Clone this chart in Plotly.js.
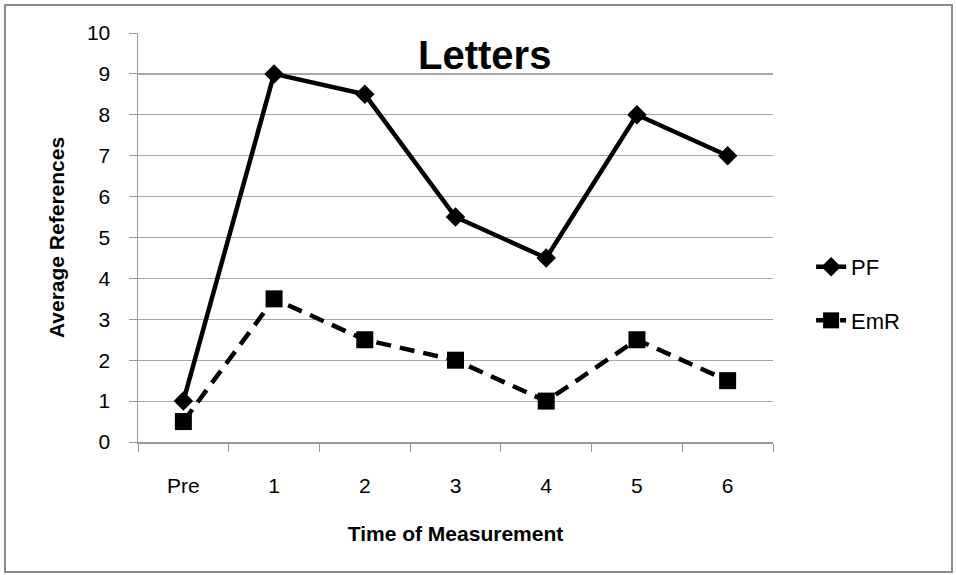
<!DOCTYPE html>
<html><head><meta charset="utf-8">
<script src="https://cdn.plot.ly/plotly-3.0.1.min.js"></script>
<style>
html,body{margin:0;padding:0;background:#fff;}
#wrap{position:relative;width:956px;height:575px;}
#chart{width:956px;height:575px;}
#frame{position:absolute;left:4px;top:4px;width:945px;height:565px;border:2px solid #8c8c8c;pointer-events:none;}
</style></head>
<body>
<div id="wrap"><div id="chart"></div><div id="frame"></div></div>
<script>
const categories = ["Pre","1","2","3","4","5","6"];
const pfValues = [1, 9, 8.5, 5.5, 4.5, 8, 7];
const emrValues = [0.5, 3.5, 2.5, 2, 1, 2.5, 1.5];
const yTicks = [0,1,2,3,4,5,6,7,8,9,10];

const fontMain = "Liberation Sans, Arial, sans-serif";

const traces = [
  {x: categories, y: pfValues, name: "PF", type: "scatter", mode: "lines+markers",
   legendgroup: "a",
   line: {color: "#000", width: 4.5},
   marker: {symbol: "diamond", size: 15, color: "#000"}},
  {x: categories, y: emrValues, name: "EmR", type: "scatter", mode: "lines+markers",
   legendgroup: "b",
   line: {color: "#000", width: 4.5, dash: "15px,9px"},
   marker: {symbol: "square", size: 17, color: "#000"}}
];

const layout = {
  width: 956, height: 575,
  margin: {l: 138, r: 183, t: 33, b: 133},
  paper_bgcolor: "#fff", plot_bgcolor: "#fff",
  showlegend: true,
  legend: {x: 1.06, y: 0.362, xanchor: "left", yanchor: "middle",
           font: {family: fontMain, size: 22, color: "#000"},
           tracegroupgap: 22, bgcolor: "rgba(0,0,0,0)"},
  annotations: [{text: "<b>Letters</b>", xref: "paper", yref: "paper",
                 x: 0.545, y: 0.945, xanchor: "center", yanchor: "middle",
                 showarrow: false, font: {family: fontMain, size: 40, color: "#000"}}],
  xaxis: {type: "category", range: [-0.5, 6.5], tickson: "boundaries",
          ticks: "outside", ticklen: 8, tickcolor: "#999", showline: true,
          linecolor: "#999", linewidth: 1.5, showgrid: false, zeroline: false,
          ticklabelstandoff: 24,
          tickfont: {family: fontMain, size: 21, color: "#000"},
          title: {text: "<b>Time of Measurement</b>", standoff: 30,
                  font: {family: fontMain, size: 21, color: "#000"}}},
  yaxis: {range: [0, 10], tickvals: yTicks, ticks: "outside", ticklen: 8,
          tickcolor: "#999", showline: true, linecolor: "#999", linewidth: 1.5,
          showgrid: true, gridcolor: "#a6a6a6", gridwidth: 1.2, zeroline: false,
          ticklabelstandoff: 14,
          tickfont: {family: fontMain, size: 21, color: "#000"},
          title: {text: "<b>Average References</b>", standoff: 16,
                  font: {family: fontMain, size: 21, color: "#000"}}}
};

Plotly.newPlot("chart", traces, layout, {displayModeBar: false, staticPlot: true});
</script>
</body></html>
